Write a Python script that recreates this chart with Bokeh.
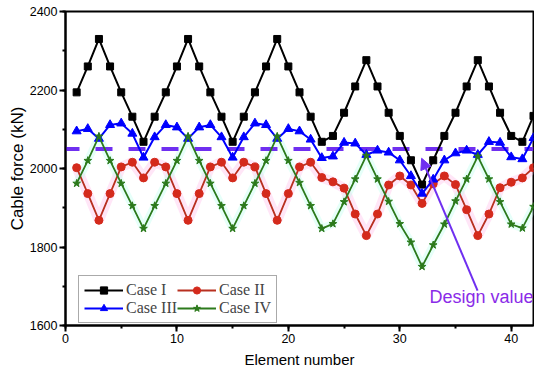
from bokeh.plotting import figure
from bokeh.models import (Range1d, SingleIntervalTicker, Legend, LegendItem,
                          Label, Arrow, NormalHead)
from bokeh.embed import file_html
from bokeh.resources import INLINE

# ---------------- data ----------------
element = list(range(1, 43))
case_1 = [2194, 2260, 2330, 2260, 2194, 2132, 2068, 2132, 2194, 2260,
          2330, 2260, 2194, 2132, 2068, 2132, 2194, 2260, 2330, 2260,
          2194, 2132, 2068, 2083, 2142, 2209, 2276, 2209, 2142, 2083,
          2021, 1959, 2021, 2083, 2142, 2209, 2276, 2209, 2142, 2083,
          2068, 2134]
case_2 = [2002, 1936, 1868, 1936, 2004, 2016, 1976, 2016, 2004, 1936,
          1868, 1936, 2004, 2016, 1976, 2016, 2004, 1936, 1868, 1936,
          2004, 2016, 1977, 1966, 1950, 1884, 1829, 1884, 1958, 1981,
          1958, 1911, 1961, 1981, 1959, 1895, 1829, 1884, 1951, 1965,
          1976, 2002]
case_3 = [2095, 2101, 2076, 2111, 2115, 2089, 2028, 2080, 2111, 2105,
          2076, 2105, 2111, 2080, 2028, 2080, 2115, 2111, 2076, 2101,
          2095, 2074, 2027, 2031, 2066, 2064, 2035, 2046, 2041, 2021,
          1981, 1936, 1972, 2021, 2039, 2046, 2035, 2068, 2066, 2029,
          2024, 2078]
case_4 = [1962, 2020, 2082, 2020, 1962, 1905, 1847, 1905, 1962, 2020,
          2082, 2020, 1962, 1905, 1847, 1905, 1962, 2020, 2082, 2020,
          1964, 1905, 1847, 1859, 1915, 1973, 2033, 1973, 1916, 1859,
          1812, 1750, 1805, 1858, 1917, 1973, 2031, 1973, 1915, 1858,
          1848, 1903]
series_labels = ["Case I", "Case II", "Case III", "Case IV"]
design_value = 2050
design_x = [0, 42]
design_label = "Design value"
x_label = "Element number"
y_label = "Cable force (kN)"

# ---------------- styles ----------------
BLACK = "#000000"
RED_LINE = "#b83020"
RED = "#d42a1c"
BLUE = "#0000ff"
GREEN = "#2c7a1c"
PURPLE = "#6f2ff0"
PURPLE_TXT = "#8a2be8"
TICK_FONT = "Liberation Sans"

p = figure(width=534, height=370, output_backend="svg", toolbar_location=None,
           x_range=Range1d(0, 42), y_range=Range1d(1600, 2400),
           min_border_left=65, min_border_right=1, min_border_top=11,
           min_border_bottom=43)
p.grid.visible = False
p.outline_line_color = "black"
p.outline_line_width = 2
p.background_fill_color = "white"
p.border_fill_color = "white"

p.xaxis.ticker = SingleIntervalTicker(interval=10, num_minor_ticks=2)
p.yaxis.ticker = SingleIntervalTicker(interval=200, num_minor_ticks=2)
for ax in (p.xaxis, p.yaxis):
    ax.axis_line_width = 2
    ax.major_tick_line_width = 2
    ax.minor_tick_line_width = 2
    ax.major_tick_out = 6
    ax.major_tick_in = 0
    ax.minor_tick_out = 3
    ax.minor_tick_in = 0
    ax.major_label_text_font = TICK_FONT
    ax.major_label_text_font_size = "12.5px"
    ax.major_label_text_color = "black"
    ax.axis_label_text_font = TICK_FONT
    ax.axis_label_text_font_style = "normal"
    ax.axis_label_text_color = "black"
p.xaxis.axis_label = x_label
p.yaxis.axis_label = y_label
p.xaxis.axis_label_text_font_size = "15px"
p.yaxis.axis_label_text_font_size = "17px"
p.xaxis.major_label_standoff = 2
p.yaxis.major_label_standoff = 2
p.xaxis.axis_label_standoff = 5
p.yaxis.axis_label_standoff = 0

# halo (compression tint) behind red and green lines
p.line(element, case_2, line_color="#ffb8e8", line_width=10, line_alpha=0.35)
p.line(element, case_4, line_color="#b8ffee", line_width=8, line_alpha=0.35)

# design value dashed line
p.line(design_x, [design_value, design_value], line_color=PURPLE, line_width=4,
       line_dash="17 16", line_dash_offset=3)

r1l = p.line(element, case_1, line_color=BLACK, line_width=2)
r1m = p.scatter(element, case_1, marker="square", size=7, color=BLACK)
r2l = p.line(element, case_2, line_color=RED_LINE, line_width=1.8)
r2m = p.scatter(element, case_2, marker="circle", size=8, color=RED)
r3l = p.line(element, case_3, line_color=BLUE, line_width=2)
r3m = p.scatter(element, case_3, marker="triangle", size=9, color=BLUE)
r4l = p.line(element, case_4, line_color=GREEN, line_width=1.8)
r4m = p.scatter(element, case_4, marker="star", size=8, color=GREEN)

legend = Legend(items=[
    LegendItem(label=series_labels[0], renderers=[r1l, r1m]),
    LegendItem(label=series_labels[1], renderers=[r2l, r2m]),
    LegendItem(label=series_labels[2], renderers=[r3l, r3m]),
    LegendItem(label=series_labels[3], renderers=[r4l, r4m]),
], location=(13, 2), orientation="horizontal", ncols=2, spacing=0,
    padding=5, glyph_width=39, glyph_height=18, label_height=18,
    label_standoff=3, label_text_font="Liberation Serif",
    label_text_font_size="16px", border_line_color="#555555",
    border_line_width=1, background_fill_color="white", background_fill_alpha=1,
    margin=0)
p.add_layout(legend)

arrow = Arrow(end=NormalHead(size=11, fill_color=PURPLE, line_color=PURPLE),
              x_start=36.98, y_start=1689, x_end=31.96, y_end=2026,
              line_color=PURPLE, line_width=2)
p.add_layout(arrow)

p.add_layout(Label(x=42.0, y=1647, text=design_label, text_align="right",
                   text_font=TICK_FONT, text_font_size="18px",
                   text_color=PURPLE_TXT))

open("out.html", "w").write(file_html(p, INLINE))
